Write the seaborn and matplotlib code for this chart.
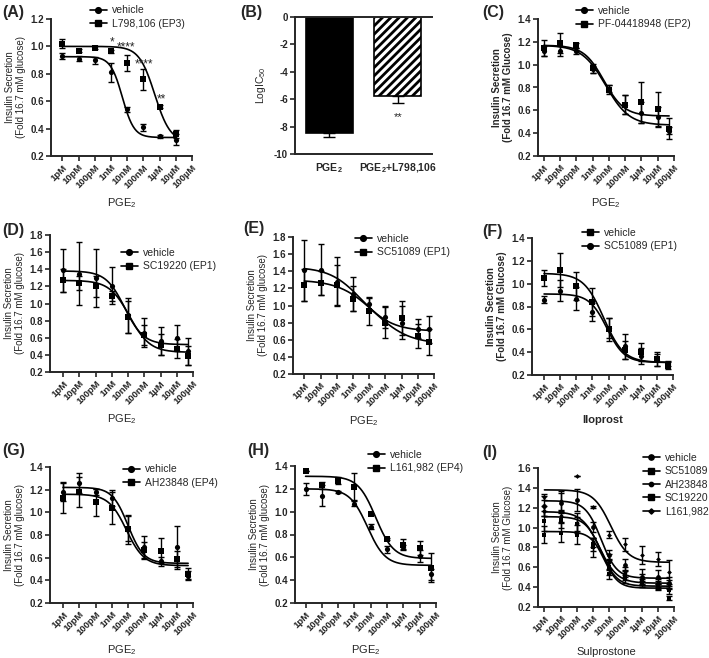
import numpy as np
import matplotlib
matplotlib.use('Agg')
import matplotlib.pyplot as plt
from matplotlib.lines import Line2D
import seaborn as sns

sns.set_style("ticks")
plt.rcParams['font.family'] = ['Liberation Sans', 'DejaVu Sans']
plt.rcParams['mathtext.fontset'] = 'custom'
plt.rcParams['mathtext.rm'] = 'Liberation Sans'
plt.rcParams['mathtext.bf'] = 'Liberation Sans:bold'
plt.rcParams['mathtext.default'] = 'regular'
plt.rcParams['hatch.linewidth'] = 2.0

W, H = 709, 658

# x axis: log10 molar concentration
conc_ticks = [-12, -11, -10, -9, -8, -7, -6, -5, -4]
conc_labels = ['1pM', '10pM', '100pM', '1nM', '10nM', '100nM', '1µM', '10µM', '100µM']
logc_8 = [-12, -11, -10, -9, -8, -7, -6, -5]
logc_9 = [-12, -11, -10, -9, -8, -7, -6, -5, -4.3]

# fit parameters: (top, bottom, logIC50, hill)
# (A) EP3
a_vehicle = [0.93, 0.91, 0.90, 0.81, 0.54, 0.41, 0.345, 0.32]
a_vehicle_sem = [0.025, 0.02, 0.025, 0.07, 0.02, 0.025, 0.01, 0.04]
a_vehicle_fit = (0.925, 0.335, -8.3, 1.2)
a_l798 = [1.02, 0.97, 0.99, 0.965, 0.88, 0.76, 0.56, 0.36]
a_l798_sem = [0.035, 0.01, 0.01, 0.01, 0.06, 0.075, 0.01, 0.03]
a_l798_fit = (1.0, 0.30, -6.3, 0.9)

# (B) LogIC50
b_groups = ['PGE$_\\mathbf{2}$', 'PGE$_\\mathbf{2}$+L798,106']
b_logic50 = [-8.45, -5.75]
b_sem = [0.3, 0.5]

# (C) EP2
c_vehicle = [1.12, 1.12, 1.12, 0.96, 0.79, 0.65, 0.58, 0.54, 0.42]
c_vehicle_sem = [0.04, 0.04, 0.03, 0.03, 0.03, 0.08, 0.09, 0.09, 0.03]
c_vehicle_fit = (1.17, 0.47, -8.2, 0.6)
c_pf = [1.15, 1.19, 1.17, 0.97, 0.78, 0.65, 0.67, 0.61, 0.44]
c_pf_sem = [0.07, 0.09, 0.02, 0.04, 0.04, 0.08, 0.18, 0.15, 0.09]
c_pf_fit = (1.17, 0.55, -8.3, 0.7)

# (D) EP1 SC19220
d_vehicle = [1.39, 1.35, 1.30, 1.21, 0.86, 0.66, 0.56, 0.60, 0.44]
d_vehicle_sem = [0.25, 0.37, 0.34, 0.22, 0.21, 0.17, 0.16, 0.15, 0.16]
d_vehicle_fit = (1.38, 0.52, -8.2, 0.75)
d_sc19220 = [1.27, 1.24, 1.20, 1.09, 0.84, 0.63, 0.52, 0.47, 0.39]
d_sc19220_sem = [0.13, 0.08, 0.12, 0.06, 0.19, 0.12, 0.12, 0.11, 0.11]
d_sc19220_fit = (1.27, 0.43, -7.9, 0.7)

# (E) EP1 SC51089
e_vehicle = [1.41, 1.42, 1.28, 1.13, 1.02, 0.87, 0.80, 0.73, 0.72]
e_vehicle_sem = [0.36, 0.30, 0.29, 0.20, 0.08, 0.13, 0.19, 0.11, 0.16]
e_vehicle_fit = (1.45, 0.70, -8.5, 0.45)
e_sc51089 = [1.24, 1.26, 1.24, 1.08, 0.93, 0.80, 0.85, 0.64, 0.57]
e_sc51089_sem = [0.19, 0.14, 0.23, 0.15, 0.16, 0.18, 0.20, 0.14, 0.15]
e_sc51089_fit = (1.30, 0.55, -7.7, 0.4)

# (F) Iloprost
f_vehicle = [1.05, 1.12, 0.98, 0.84, 0.60, 0.42, 0.40, 0.34, 0.28]
f_vehicle_sem = [0.07, 0.15, 0.12, 0.12, 0.10, 0.08, 0.08, 0.06, 0.03]
f_vehicle_fit = (1.09, 0.31, -8.3, 0.7)
f_sc51089 = [0.86, 0.94, 0.87, 0.75, 0.61, 0.45, 0.37, 0.33, 0.30]
f_sc51089_sem = [0.03, 0.09, 0.10, 0.08, 0.09, 0.11, 0.07, 0.05, 0.02]
f_sc51089_fit = (0.91, 0.31, -8.1, 0.8)

# (G) EP4 AH23848
g_vehicle = [1.18, 1.26, 1.18, 1.13, 0.86, 0.69, 0.57, 0.69, 0.44]
g_vehicle_sem = [0.08, 0.09, 0.03, 0.07, 0.11, 0.10, 0.04, 0.19, 0.04]
g_vehicle_fit = (1.22, 0.55, -8.0, 0.9)
g_ah23848 = [1.13, 1.18, 1.09, 1.04, 0.85, 0.67, 0.66, 0.59, 0.46]
g_ah23848_sem = [0.14, 0.13, 0.12, 0.14, 0.13, 0.07, 0.11, 0.07, 0.05]
g_ah23848_fit = (1.16, 0.53, -8.1, 0.8)

# (H) EP4 L161,982
h_vehicle = [1.20, 1.14, 1.17, 1.07, 0.87, 0.67, 0.69, 0.61, 0.45]
h_vehicle_sem = [0.05, 0.09, 0.01, 0.02, 0.02, 0.03, 0.02, 0.05, 0.05]
h_vehicle_fit = (1.20, 0.53, -8.2, 0.8)
h_l161 = [1.36, 1.23, 1.27, 1.22, 0.98, 0.76, 0.71, 0.68, 0.51]
h_l161_sem = [0.0, 0.03, 0.03, 0.12, 0.0, 0.01, 0.05, 0.06, 0.13]
h_l161_fit = (1.31, 0.59, -7.7, 0.8)

# (I) Sulprostone
i_vehicle = [1.22, 1.25, 1.28, 1.01, 0.72, 0.62, 0.50, 0.50, 0.44]
i_vehicle_sem = [0.10, 0.10, 0.11, 0.05, 0.05, 0.06, 0.08, 0.07, 0.06]
i_vehicle_fit = (1.27, 0.49, -8.5, 0.9)
i_sc51089 = [0.93, 0.95, 0.93, 0.80, 0.53, 0.48, 0.43, 0.40, 0.29]
i_sc51089_sem = [0.09, 0.10, 0.10, 0.10, 0.05, 0.04, 0.03, 0.03, 0.02]
i_sc51089_fit = (0.96, 0.39, -8.3, 1.0)
i_ah23848 = [1.17, 1.12, 1.05, 0.85, 0.65, 0.55, 0.48, 0.44, 0.43]
i_ah23848_sem = [0.05, 0.06, 0.10, 0.05, 0.08, 0.05, 0.05, 0.04, 0.04]
i_ah23848_fit = (1.16, 0.44, -8.6, 0.8)
i_sc19220 = [1.07, 1.08, 1.04, 0.83, 0.60, 0.52, 0.45, 0.42, 0.37]
i_sc19220_sem = [0.10, 0.08, 0.07, 0.07, 0.08, 0.05, 0.03, 0.04, 0.04]
i_sc19220_fit = (1.11, 0.41, -8.5, 0.9)
i_l161 = [1.31, 1.27, 1.52, 1.21, 0.93, 0.83, 0.72, 0.68, 0.55]
i_l161_sem = [0.03, 0.10, 0.0, 0.01, 0.04, 0.07, 0.09, 0.07, 0.12]
i_l161_fit = (1.38, 0.65, -7.9, 0.8)


def add_axes(fig, l, r, t, b):
    return fig.add_axes([l / W, 1 - b / H, (r - l) / W, (b - t) / H])


def fit_curve(x0, x1, fit):
    top, bottom, logic50, hill = fit
    xs = np.linspace(x0, x1, 200)
    ys = bottom + (top - bottom) / (1 + 10 ** ((xs - logic50) * hill))
    return xs, ys


def style_axes(ax, ymax, ystep, xleft):
    sns.despine(ax=ax)
    for sp in ['left', 'bottom']:
        ax.spines[sp].set_linewidth(1.4)
    ax.tick_params(direction='out', length=3.5, width=1.2, labelsize=7, pad=1.5)
    ax.set_xlim(xleft, -4)
    ax.set_ylim(0.2, ymax)
    yt = np.round(np.arange(0.2, ymax + 0.01, ystep), 1)
    ax.set_yticks(yt)
    ax.set_yticklabels([f'{v:.1f}' for v in yt], fontweight='bold')
    ax.set_xticks(conc_ticks)
    ax.set_xticklabels(conc_labels, rotation=45, ha='right', rotation_mode='anchor',
                       fontweight='bold', fontsize=6.8)


def dose_panel(ax, x, series, ymax, xleft, ylabel, xlabel, legend_at,
               ylabel_bold=False, xlabel_bold=False):
    handles = []
    for label, mean, sem, fit, marker, size in series:
        xs, ys = fit_curve(x[0], x[-1], fit)
        sns.lineplot(x=xs, y=ys, ax=ax, color='black', lw=1.2, estimator=None, sort=False)
        ax.errorbar(x, mean, yerr=sem, fmt='none', ecolor='black', elinewidth=1.0,
                    capsize=2.5, capthick=1.0, zorder=3)
        sns.scatterplot(x=x, y=mean, ax=ax, marker=marker, s=size, color='black',
                        edgecolor='black', linewidth=0, zorder=4)
        handles.append(Line2D([], [], color='black', lw=1.2, marker=marker,
                              markersize=np.sqrt(size) * 1.1, label=label))
    style_axes(ax, ymax, 0.2, xleft)
    ax.set_ylabel(ylabel, fontsize=7, fontweight='bold' if ylabel_bold else 'normal',
                  labelpad=3, linespacing=1.1)
    ax.set_xlabel(xlabel, fontsize=8, fontweight='bold' if xlabel_bold else 'normal', labelpad=4)
    ax.legend(handles=handles, loc='center left',
              bbox_to_anchor=(legend_at[0] / W, 1 - legend_at[1] / H),
              bbox_transform=fig.transFigure, frameon=False, fontsize=7.5,
              handlelength=1.6, handletextpad=0.5, borderpad=0, borderaxespad=0,
              labelspacing=0.32)


fig = plt.figure(figsize=(W / 100, H / 100), dpi=100)
fig.patch.set_facecolor('white')

ylab_low = 'Insulin Secretion\n(Fold 16.7 mM glucose)'
ylab_cap = 'Insulin Secretion\n(Fold 16.7 mM Glucose)'
pge2 = 'PGE$_2$'

# (A)
ax = add_axes(fig, 51, 192, 19, 156)
dose_panel(ax, logc_8,
           [('vehicle', a_vehicle, a_vehicle_sem, a_vehicle_fit, 'o', 14),
            ('L798,106 (EP3)', a_l798, a_l798_sem, a_l798_fit, 's', 14)],
           1.2, -12.7, ylab_low, pge2, (90, 17))
for sx, sy, st in [(-8.93, 1.03, '*'), (-8.06, 0.99, '****'),
                   (-6.99, 0.87, '****'), (-5.9, 0.615, '**')]:
    ax.text(sx, sy, st, ha='center', va='center', fontsize=8.5)

# (B)
ax = add_axes(fig, 295, 432, 17, 154)
sns.barplot(x=b_groups, y=b_logic50, hue=b_groups, palette=['black', 'white'],
            legend=False, ax=ax, width=0.68, edgecolor='black', linewidth=1.2,
            errorbar=None)
ax.patches[1].set_hatch('////')
ax.errorbar([0, 1], b_logic50, yerr=[b_sem, [0, 0]], fmt='none', ecolor='black',
            elinewidth=1.0, capsize=4, capthick=1.0)
ax.text(1, -7.3, '**', ha='center', va='center', fontsize=8)
ax.set_xlim(-0.5, 1.5)
ax.set_ylim(-10, 0)
ax.set_yticks([0, -2, -4, -6, -8, -10])
ax.set_yticklabels(['0', '-2', '-4', '-6', '-8', '-10'], fontweight='bold')
for sp in ['left', 'bottom', 'top']:
    ax.spines[sp].set_linewidth(1.4)
ax.spines['right'].set_visible(False)
ax.tick_params(axis='y', direction='out', length=3.5, width=1.2, labelsize=7, pad=1.5)
ax.tick_params(axis='x', length=0, labelsize=7.5, pad=5)
for t in ax.get_xticklabels():
    t.set_fontweight('bold')
ax.set_ylabel('LogIC$_{50}$', fontsize=7.5, labelpad=4)
ax.set_xlabel('')

# (C)
ax = add_axes(fig, 538, 674, 19, 156)
dose_panel(ax, logc_9,
           [('vehicle', c_vehicle, c_vehicle_sem, c_vehicle_fit, 'o', 14),
            ('PF-04418948 (EP2)', c_pf, c_pf_sem, c_pf_fit, 's', 14)],
           1.4, -12.35, ylab_cap, pge2, (576, 17.5), ylabel_bold=True)

# (D)
ax = add_axes(fig, 50, 193, 235, 372)
dose_panel(ax, logc_9,
           [('vehicle', d_vehicle, d_vehicle_sem, d_vehicle_fit, 'o', 14),
            ('SC19220 (EP1)', d_sc19220, d_sc19220_sem, d_sc19220_fit, 's', 14)],
           1.8, -12.8, ylab_low, pge2, (121, 259.5))

# (E)
ax = add_axes(fig, 293, 434, 237, 374)
dose_panel(ax, logc_9,
           [('vehicle', e_vehicle, e_vehicle_sem, e_vehicle_fit, 'o', 14),
            ('SC51089 (EP1)', e_sc51089, e_sc51089_sem, e_sc51089_fit, 's', 14)],
           1.8, -12.7, ylab_low, pge2, (355, 245.5))

# (F)
ax = add_axes(fig, 532, 673, 238, 375)
dose_panel(ax, logc_9,
           [('vehicle', f_vehicle, f_vehicle_sem, f_vehicle_fit, 's', 14),
            ('SC51089 (EP1)', f_sc51089, f_sc51089_sem, f_sc51089_fit, 'o', 14)],
           1.4, -12.75, ylab_cap, 'Iloprost', (582, 239.5),
           ylabel_bold=True, xlabel_bold=True)

# (G)
ax = add_axes(fig, 50, 193, 467, 603)
dose_panel(ax, logc_9,
           [('vehicle', g_vehicle, g_vehicle_sem, g_vehicle_fit, 'o', 14),
            ('AH23848 (EP4)', g_ah23848, g_ah23848_sem, g_ah23848_fit, 's', 14)],
           1.4, -12.8, ylab_low, pge2, (123, 476))

# (H)
ax = add_axes(fig, 295, 436, 466, 603)
dose_panel(ax, logc_9,
           [('vehicle', h_vehicle, h_vehicle_sem, h_vehicle_fit, 'o', 14),
            ('L161,982 (EP4)', h_l161, h_l161_sem, h_l161_fit, 's', 14)],
           1.4, -12.65, ylab_low, pge2, (368, 461.5))

# (I)
ax = add_axes(fig, 538, 674, 468, 607)
dose_panel(ax, logc_9,
           [('vehicle', i_vehicle, i_vehicle_sem, i_vehicle_fit, 'o', 12),
            ('SC51089', i_sc51089, i_sc51089_sem, i_sc51089_fit, 's', 12),
            ('AH23848', i_ah23848, i_ah23848_sem, i_ah23848_fit, 'o', 8),
            ('SC19220', i_sc19220, i_sc19220_sem, i_sc19220_fit, 's', 12),
            ('L161,982', i_l161, i_l161_sem, i_l161_fit, 'D', 6)],
           1.6, -12.4, ylab_cap, 'Sulprostone', (643, 484.5))

# panel letters
for lab, px, py in [('(A)', 2, 12), ('(B)', 240, 12), ('(C)', 482, 12),
                    ('(D)', 2, 230), ('(E)', 243, 229), ('(F)', 482, 232),
                    ('(G)', 2, 450), ('(H)', 247, 450), ('(I)', 482, 452)]:
    fig.text(px / W, 1 - py / H, lab, fontsize=11.5, fontweight='bold', ha='left', va='center')

fig.savefig('out.png', dpi=100, facecolor='white')
